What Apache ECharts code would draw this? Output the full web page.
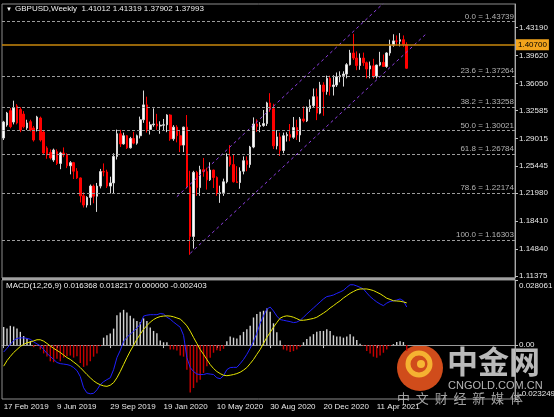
<!DOCTYPE html>
<html>
<head>
<meta charset="utf-8">
<script src="https://cdn.jsdelivr.net/npm/echarts@6/dist/echarts.min.js"></script>
<style>
  html, body { margin: 0; padding: 0; background: #000; }
  #chart { width: 554px; height: 417px; }
</style>
</head>
<body>
<div id="chart"></div>
<script>
// GBPUSD weekly, first bar = week of 17 Feb 2019
const firstWeek = '2019-02-17';
const weekSlots = 154;   // includes the empty weeks right of the last bar

const opens = [
  1.2906, 1.3072, 1.3256, 1.3110, 1.3316, 1.3270, 1.3212, 1.3034, 1.3115, 1.3034,
  1.3021, 1.3162, 1.2983, 1.2778, 1.2720, 1.2624, 1.2730, 1.2580, 1.2714, 1.2690,
  1.2550, 1.2590, 1.2480, 1.2394, 1.2165, 1.2047, 1.2145, 1.2290, 1.2160, 1.2290,
  1.2475, 1.2470, 1.2290, 1.2330, 1.2670, 1.2960, 1.2830, 1.2935, 1.2780, 1.2900,
  1.2840, 1.2935, 1.3140, 1.3330, 1.3015, 1.3075, 1.3085, 1.3060, 1.3070, 1.3075,
  1.3200, 1.2895, 1.3045, 1.2935, 1.2815, 1.3045, 1.2280, 1.1645, 1.2465, 1.2270,
  1.2500, 1.2475, 1.2370, 1.2495, 1.2400, 1.2195, 1.2205, 1.2345, 1.2665, 1.2565,
  1.2345, 1.2335, 1.2480, 1.2615, 1.2565, 1.2790, 1.3085, 1.3055, 1.3065, 1.3090,
  1.3355, 1.3280, 1.2805, 1.2920, 1.2745, 1.2935, 1.2950, 1.2915, 1.3040, 1.2945,
  1.3150, 1.3125, 1.3285, 1.3320, 1.3435, 1.3225, 1.3585, 1.3500, 1.3670, 1.3565,
  1.3585, 1.3690, 1.3705, 1.3725, 1.3845, 1.3995, 1.3930, 1.3835, 1.3930, 1.3870,
  1.3790, 1.3830, 1.3700, 1.3840, 1.3875, 1.3822, 1.3995, 1.4095, 1.4150, 1.4145,
  1.4165, 1.41012
];
const highs = [
  1.3125, 1.3240, 1.3290, 1.3384, 1.3340, 1.3300, 1.3250, 1.3140, 1.3140, 1.3060,
  1.3190, 1.3180, 1.3000, 1.2800, 1.2760, 1.2770, 1.2760, 1.2730, 1.2785, 1.2710,
  1.2610, 1.2600, 1.2520, 1.2400, 1.2210, 1.2160, 1.2310, 1.2310, 1.2330, 1.2510,
  1.2580, 1.2500, 1.2410, 1.2710, 1.3013, 1.3010, 1.2975, 1.2945, 1.2920, 1.2985,
  1.2950, 1.3180, 1.3514, 1.3435, 1.3115, 1.3285, 1.3215, 1.3120, 1.3150, 1.3210,
  1.3210, 1.3070, 1.3070, 1.3010, 1.3050, 1.3200, 1.2485, 1.2485, 1.2485, 1.2550,
  1.2650, 1.2525, 1.2595, 1.2500, 1.2415, 1.2295, 1.2385, 1.2710, 1.2815, 1.2690,
  1.2545, 1.2530, 1.2670, 1.2670, 1.2805, 1.3170, 1.3145, 1.3110, 1.3265, 1.3370,
  1.3480, 1.3345, 1.3005, 1.2975, 1.2975, 1.2980, 1.3085, 1.3175, 1.3140, 1.3175,
  1.3310, 1.3310, 1.3400, 1.3540, 1.3540, 1.3625, 1.3620, 1.3705, 1.3705, 1.3710,
  1.3745, 1.3760, 1.3760, 1.3865, 1.4035, 1.4241, 1.4015, 1.3990, 1.4000, 1.3885,
  1.3885, 1.3920, 1.3845, 1.4010, 1.3975, 1.4005, 1.4165, 1.4235, 1.4220, 1.4250,
  1.4220, 1.41319
];
const lows = [
  1.2880, 1.3050, 1.3030, 1.3080, 1.3080, 1.2980, 1.3030, 1.3010, 1.2990, 1.2860,
  1.2990, 1.2860, 1.2700, 1.2640, 1.2630, 1.2600, 1.2560, 1.2506, 1.2660, 1.2520,
  1.2440, 1.2380, 1.2380, 1.2080, 1.2015, 1.2015, 1.2045, 1.2070, 1.1959, 1.2260,
  1.2415, 1.2265, 1.2195, 1.2195, 1.2630, 1.2790, 1.2820, 1.2765, 1.2770, 1.2825,
  1.2820, 1.2900, 1.3100, 1.2975, 1.2950, 1.3050, 1.3010, 1.2960, 1.3000, 1.2980,
  1.2870, 1.2870, 1.2850, 1.2725, 1.2725, 1.2260, 1.1409, 1.1490, 1.2165, 1.2165,
  1.2410, 1.2245, 1.2355, 1.2265, 1.2165, 1.2075, 1.2165, 1.2325, 1.2540, 1.2335,
  1.2330, 1.2255, 1.2440, 1.2480, 1.2525, 1.2775, 1.2985, 1.2980, 1.3050, 1.3060,
  1.3240, 1.2765, 1.2760, 1.2675, 1.2710, 1.2860, 1.2865, 1.2895, 1.2880, 1.2855,
  1.3105, 1.3110, 1.3240, 1.3290, 1.3135, 1.3210, 1.3190, 1.3460, 1.3450, 1.3450,
  1.3560, 1.3620, 1.3565, 1.3670, 1.3835, 1.3905, 1.3775, 1.3780, 1.3830, 1.3670,
  1.3670, 1.3670, 1.3670, 1.3825, 1.3820, 1.3805, 1.3960, 1.4075, 1.4090, 1.4080,
  1.4075, 1.37902
];
const closes = [
  1.3111, 1.3225, 1.3051, 1.3290, 1.3098, 1.3008, 1.3051, 1.3098, 1.3008, 1.2880,
  1.3175, 1.2880, 1.2714, 1.2688, 1.2650, 1.2752, 1.2580, 1.2714, 1.2690, 1.2550,
  1.2590, 1.2480, 1.2394, 1.2165, 1.2047, 1.2145, 1.2290, 1.2160, 1.2290, 1.2475,
  1.2470, 1.2290, 1.2330, 1.2670, 1.2960, 1.2830, 1.2935, 1.2780, 1.2900, 1.2840,
  1.2935, 1.3140, 1.3330, 1.3015, 1.3075, 1.3085, 1.3060, 1.3070, 1.3075, 1.3200,
  1.2895, 1.3045, 1.2935, 1.2815, 1.3045, 1.2280, 1.1645, 1.2465, 1.2270, 1.2500,
  1.2475, 1.2370, 1.2495, 1.2400, 1.2195, 1.2205, 1.2345, 1.2665, 1.2565, 1.2345,
  1.2335, 1.2480, 1.2615, 1.2565, 1.2790, 1.3085, 1.3055, 1.3065, 1.3090, 1.3355,
  1.3280, 1.2805, 1.2920, 1.2745, 1.2935, 1.2950, 1.2915, 1.3040, 1.2945, 1.3150,
  1.3125, 1.3285, 1.3320, 1.3435, 1.3225, 1.3585, 1.3500, 1.3670, 1.3565, 1.3585,
  1.3690, 1.3705, 1.3725, 1.3845, 1.3995, 1.3930, 1.3835, 1.3930, 1.3870, 1.3790,
  1.3830, 1.3700, 1.3840, 1.3875, 1.3822, 1.3995, 1.4095, 1.4150, 1.4145, 1.4165,
  1.4101, 1.37993
];

// MACD(12,26,9) panel
const macdLine = [
  -0.0030, -0.0014, 0.0003, 0.0020, 0.0029, 0.0031, 0.0031, 0.0029, 0.0025, 0.0014,
  0.0005, -0.0003, -0.0019, -0.0036, -0.0049, -0.0062, -0.0075, -0.0080, -0.0082, -0.0084,
  -0.0088, -0.0097, -0.0110, -0.0136, -0.0184, -0.0206, -0.0210, -0.0208, -0.0193, -0.0171,
  -0.0158, -0.0149, -0.0141, -0.0106, -0.0054, -0.0023, 0.0016, 0.0033, 0.0047, 0.0060,
  0.0073, 0.0090, 0.0125, 0.0129, 0.0131, 0.0131, 0.0131, 0.0136, 0.0134, 0.0120,
  0.0112, 0.0099, 0.0088, 0.0077, 0.0042, -0.0054, -0.0097, -0.0114, -0.0125, -0.0127,
  -0.0127, -0.0123, -0.0125, -0.0127, -0.0141, -0.0145, -0.0132, -0.0106, -0.0097, -0.0096,
  -0.0096, -0.0080, -0.0062, -0.0040, -0.0014, 0.0016, 0.0051, 0.0094, 0.0126, 0.0155,
  0.0164, 0.0147, 0.0125, 0.0110, 0.0107, 0.0104, 0.0101, 0.0097, 0.0099, 0.0107,
  0.0120, 0.0134, 0.0147, 0.0160, 0.0173, 0.0186, 0.0199, 0.0209, 0.0212, 0.0216,
  0.0223, 0.0229, 0.0236, 0.0249, 0.0260, 0.0260, 0.0255, 0.0249, 0.0242, 0.0225,
  0.0209, 0.0197, 0.0186, 0.0177, 0.0170, 0.0181, 0.0188, 0.0191, 0.0194, 0.0199,
  0.0191, 0.0164
];
const signalLine = [
  -0.0091, -0.0067, -0.0049, -0.0032, -0.0019, -0.0006, 0.0003, 0.0010, 0.0013, 0.0018,
  0.0023, 0.0023, 0.0017, 0.0007, -0.0004, -0.0014, -0.0023, -0.0032, -0.0043, -0.0054,
  -0.0062, -0.0073, -0.0084, -0.0097, -0.0112, -0.0127, -0.0141, -0.0154, -0.0164, -0.0171,
  -0.0176, -0.0178, -0.0173, -0.0162, -0.0141, -0.0114, -0.0084, -0.0054, -0.0026, -0.0001,
  0.0025, 0.0047, 0.0068, 0.0084, 0.0099, 0.0110, 0.0118, 0.0123, 0.0125, 0.0126,
  0.0125, 0.0122, 0.0117, 0.0112, 0.0099, 0.0083, 0.0060, 0.0033, 0.0007, -0.0019,
  -0.0040, -0.0062, -0.0084, -0.0101, -0.0114, -0.0123, -0.0130, -0.0132, -0.0130, -0.0127,
  -0.0123, -0.0117, -0.0108, -0.0097, -0.0080, -0.0062, -0.0040, -0.0019, 0.0007, 0.0033,
  0.0055, 0.0077, 0.0097, 0.0116, 0.0123, 0.0126, 0.0124, 0.0120, 0.0114, 0.0107,
  0.0107, 0.0109, 0.0112, 0.0115, 0.0120, 0.0129, 0.0138, 0.0148, 0.0160, 0.0170,
  0.0181, 0.0191, 0.0203, 0.0213, 0.0223, 0.0231, 0.0238, 0.0242, 0.0242, 0.0242,
  0.0239, 0.0235, 0.0228, 0.0221, 0.0212, 0.0202, 0.0197, 0.0191, 0.0190, 0.0189,
  0.0186, 0.0182
];
const histValues = [
  0.0078, 0.0071, 0.0083, 0.0080, 0.0071, 0.0057, 0.0039, 0.0029, 0.0017, -0.0009,
  -0.0003, -0.0019, -0.0036, -0.0049, -0.0070, -0.0074, -0.0059, -0.0070, -0.0054, -0.0048,
  -0.0045, -0.0054, -0.0048, -0.0077, -0.0094, -0.0088, -0.0070, -0.0050, -0.0036, -0.0004,
  0.0032, 0.0042, 0.0050, 0.0071, 0.0129, 0.0141, 0.0152, 0.0141, 0.0126, 0.0115,
  0.0104, 0.0100, 0.0115, 0.0104, 0.0076, 0.0061, 0.0051, 0.0020, 0.0012, 0.0012,
  -0.0019, -0.0019, -0.0023, -0.0045, -0.0050, -0.0106, -0.0204, -0.0185, -0.0161, -0.0149,
  -0.0120, -0.0091, -0.0055, -0.0033, -0.0022, -0.0026, -0.0016, 0.0017, 0.0037, 0.0032,
  0.0028, 0.0042, 0.0057, 0.0068, 0.0083, 0.0119, 0.0134, 0.0144, 0.0148, 0.0158,
  0.0144, 0.0094, 0.0055, 0.0020, -0.0019, -0.0023, -0.0030, -0.0026, -0.0019, -0.0007,
  0.0012, 0.0026, 0.0037, 0.0047, 0.0057, 0.0061, 0.0061, 0.0068, 0.0061, 0.0042,
  0.0037, 0.0037, 0.0032, 0.0037, 0.0047, 0.0037, 0.0022, 0.0006, -0.0003, -0.0026,
  -0.0036, -0.0050, -0.0055, -0.0045, -0.0033, -0.0019, -0.0004, 0.0004, 0.0013, 0.0017,
  0.0013, -0.0024
];

const priceTicks = [1.43190, 1.39620, 1.36050, 1.32585, 1.29015, 1.25445, 1.21980, 1.18410, 1.14840, 1.11375];
const macdTicks = [0.028061, 0, -0.023249];
const fibNames = ['0.0', '23.6', '38.2', '50.0', '61.8', '78.6', '100.0'];
const fibPrices = [1.43739, 1.37264, 1.33258, 1.30021, 1.26784, 1.22174, 1.16303];
const levelPrice = 1.40700;
const lastPrice = 1.37993;
// equidistant channel anchors: [bar index, price]
const channelLower = [[56, 1.1428], [127, 1.4247]];
const channelUpper = [[52, 1.2154], [114, 1.4632]];
const labelStep = 16;

const MONTHS = ['Jan','Feb','Mar','Apr','May','Jun','Jul','Aug','Sep','Oct','Nov','Dec'];
const weeks = [];
const t0 = Date.parse(firstWeek + 'T00:00:00Z');
for (let i = 0; i < weekSlots; i++) {
  const d = new Date(t0 + i * 7 * 86400000);
  weeks.push(d.getUTCDate() + ' ' + MONTHS[d.getUTCMonth()] + ' ' + d.getUTCFullYear());
}
const candles = opens.map((o, i) => [o, closes[i], lows[i], highs[i]]);
const showDate = (i) => i % labelStep === 0 && i < opens.length;
const FONT = 'Liberation Sans';
const axisText = { color: '#e8e8e8', fontSize: 8, fontFamily: FONT };

const fibLines = fibPrices.map((p, i) => ({
  yAxis: p,
  lineStyle: { color: '#9c9c9c', type: [3, 2], width: 1 },
  label: {
    show: true, position: 'insideEndTop', distance: [1, 1],
    formatter: fibNames[i] + ' = ' + p.toFixed(5),
    color: '#b4b4b4', fontSize: 8, fontFamily: FONT
  }
}));

// top / bottom labels of the MACD window sit inside the window, like MT4
function macdLabel(v) {
  if (v === macdTicks[0]) return '{hi|' + v + '}';
  if (v === macdTicks[2]) return '{lo|' + v + '}';
  return '0.00';
}

const chart = echarts.init(document.getElementById('chart'), null, { renderer: 'canvas' });
chart.setOption({
  backgroundColor: '#000',
  animation: false,
  grid: [
    { left: 2, right: 39, top: 4, height: 274, show: true, borderColor: '#8c8c8c', borderWidth: 1, containLabel: false, outerBoundsMode: 'none' },
    { left: 2, right: 39, top: 280, height: 119, show: true, borderColor: '#8c8c8c', borderWidth: 1, containLabel: false, outerBoundsMode: 'none' }
  ],
  xAxis: [
    { type: 'category', gridIndex: 0, data: weeks, boundaryGap: true,
      axisLine: { show: false }, axisTick: { show: false }, axisLabel: { show: false }, splitLine: { show: false } },
    { type: 'category', gridIndex: 1, data: weeks, boundaryGap: true,
      axisLine: { show: true, lineStyle: { color: '#9a9a9a' } },
      axisTick: { show: true, interval: showDate, alignWithLabel: true, length: 3, lineStyle: { color: '#c0c0c0' } },
      axisLabel: Object.assign({ interval: showDate, align: 'left', margin: 4 }, axisText),
      splitLine: { show: false } }
  ],
  yAxis: [
    { type: 'value', gridIndex: 0, position: 'right', min: 1.11121, max: 1.46226, scale: true,
      axisLine: { show: true, lineStyle: { color: '#a8a8a8' } },
      axisTick: { show: true, length: 3, customValues: priceTicks, lineStyle: { color: '#c0c0c0' } },
      axisLabel: Object.assign({ customValues: priceTicks, formatter: v => v.toFixed(5), margin: 4 }, axisText),
      splitLine: { show: false } },
    { type: 'value', gridIndex: 1, position: 'right', min: macdTicks[2], max: macdTicks[0],
      axisLine: { show: true, lineStyle: { color: '#a8a8a8' } },
      axisTick: { show: true, length: 3, customValues: macdTicks, lineStyle: { color: '#c0c0c0' } },
      axisLabel: Object.assign({
        customValues: macdTicks, formatter: macdLabel, margin: 4,
        rich: {
          hi: Object.assign({ padding: [11, 0, 0, 0] }, axisText),
          lo: Object.assign({ padding: [0, 0, 10, 0] }, axisText)
        }
      }, axisText),
      splitLine: { show: false } }
  ],
  series: [
    {
      type: 'candlestick', xAxisIndex: 0, yAxisIndex: 0, data: candles, barWidth: '62%',
      itemStyle: { color: '#ffffff', color0: '#ff0000', borderColor: '#d8d8d8', borderColor0: '#ff0000', borderWidth: 1 },
      markLine: {
        silent: true, symbol: ['none', 'none'], animation: false,
        data: fibLines.concat([
          { yAxis: levelPrice, lineStyle: { color: '#c8870c', type: 'solid', width: 1.5 },
            label: { show: true, position: 'end', distance: 1, formatter: levelPrice.toFixed(5),
              backgroundColor: '#f2a41c', color: '#000', padding: [2, 2, 1, 2], fontSize: 8, fontFamily: FONT } },
          { yAxis: lastPrice, lineStyle: { opacity: 0 },
            label: { show: true, position: 'end', distance: 1, formatter: lastPrice.toFixed(5),
              backgroundColor: '#ffffff', color: '#000', padding: [2, 2, 1, 2], fontSize: 8, fontFamily: FONT } }
        ])
      }
    },
    { type: 'line', xAxisIndex: 0, yAxisIndex: 0, silent: true, symbol: 'none',
      data: channelLower.map(p => [weeks[p[0]], p[1]]),
      lineStyle: { color: '#8d3ee0', type: [3, 3], width: 1 } },
    { type: 'line', xAxisIndex: 0, yAxisIndex: 0, silent: true, symbol: 'none',
      data: channelUpper.map(p => [weeks[p[0]], p[1]]),
      lineStyle: { color: '#8d3ee0', type: [3, 3], width: 1 } },
    { type: 'bar', xAxisIndex: 1, yAxisIndex: 1, barWidth: 1.4, silent: true,
      data: histValues.map(v => ({ value: v, itemStyle: { color: v >= 0 ? '#d4d4d4' : '#c80000' } })) },
    { type: 'line', xAxisIndex: 1, yAxisIndex: 1, silent: true, symbol: 'none', data: macdLine,
      lineStyle: { color: '#2020ff', width: 1 } },
    { type: 'line', xAxisIndex: 1, yAxisIndex: 1, silent: true, symbol: 'none', data: signalLine,
      lineStyle: { color: '#e6e600', width: 1 } }
  ],
  graphic: [
    { type: 'rect', shape: { x: 2, y: 277.5, width: 513, height: 2.5 }, style: { fill: '#a0a0a0' }, silent: true },
    { type: 'text', x: 6, y: 6, style: { text: '▼', fill: '#fff', fontSize: 6, fontFamily: FONT } },
    { type: 'text', x: 15, y: 5, style: { text: 'GBPUSD,Weekly  1.41012 1.41319 1.37902 1.37993', fill: '#f0f0f0', fontSize: 8, fontFamily: FONT } },
    { type: 'text', x: 6, y: 282, style: { text: 'MACD(12,26,9) 0.016368 0.018217 0.000000 -0.002403', fill: '#f0f0f0', fontSize: 8, fontFamily: FONT } },
    // watermark
    { type: 'group', silent: true, children: [
      { type: 'circle', shape: { cx: 420, cy: 368, r: 23 }, style: { fill: '#e2531d', opacity: 0.92 } },
      { type: 'circle', shape: { cx: 419, cy: 364, r: 11 }, style: { fill: 'none', stroke: '#f7b733', lineWidth: 5, opacity: 0.95 } },
      { type: 'circle', shape: { cx: 421, cy: 364, r: 4 }, style: { fill: '#f7b733' } },
      { type: 'text', x: 447, y: 346, style: { text: '中金网', fill: 'rgba(205,205,205,0.9)', fontSize: 31, fontWeight: 'bold', fontFamily: 'Noto Sans CJK SC' } },
      { type: 'text', x: 448, y: 380, style: { text: 'CNGOLD.COM.CN', fill: 'rgba(200,200,200,0.9)', fontSize: 11, fontFamily: FONT } },
      { type: 'text', x: 397, y: 392, style: { text: '中  文  财  经  新  媒  体', fill: 'rgba(190,190,190,0.85)', fontSize: 13, fontFamily: 'Noto Sans CJK SC' } }
    ] }
  ]
});
</script>
</body>
</html>
